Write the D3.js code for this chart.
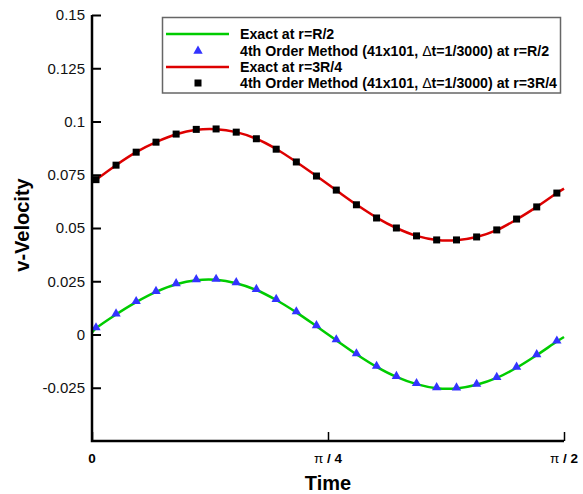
<!DOCTYPE html>
<html>
<head>
<meta charset="utf-8">
<script src="https://cdn.jsdelivr.net/npm/d3@7"></script>
<style>
  body { margin: 0; background: #fff; }
  svg { display: block; font-family: "Liberation Sans", Arial, Helvetica, sans-serif; }
</style>
</head>
<body>
<div id="chart"></div>
<script>
// time samples for the exact solution (line) and the 4th order method (symbols)
const exactTime = [0, 0.0133, 0.080, 0.147, 0.213, 0.280, 0.347, 0.413, 0.480, 0.547, 0.613, 0.680,
  0.747, 0.813, 0.880, 0.947, 1.013, 1.080, 1.147, 1.213, 1.280, 1.347, 1.413, 1.480, 1.547, 1.5708];
const exactHalf = [0.0010, 0.0029, 0.0094, 0.0152, 0.0200, 0.0236, 0.0255, 0.0257, 0.0241, 0.0209, 0.0162, 0.0104,
  0.0039, -0.0027, -0.0093, -0.0152, -0.0199, -0.0233, -0.0252, -0.0253, -0.0236, -0.0204, -0.0156, -0.0097, -0.0033, -0.0012];
const exactThreeQuarter = [0.0714, 0.0727, 0.0795, 0.0856, 0.0903, 0.0940, 0.0961, 0.0964, 0.0950, 0.0919, 0.0871, 0.0810,
  0.0744, 0.0677, 0.0610, 0.0549, 0.0500, 0.0463, 0.0444, 0.0443, 0.0458, 0.0490, 0.0540, 0.0599, 0.0664, 0.0685];

const methodTime = [0.0133, 0.080, 0.147, 0.213, 0.280, 0.347, 0.413, 0.480, 0.547, 0.613, 0.680, 0.747,
  0.813, 0.880, 0.947, 1.013, 1.080, 1.147, 1.213, 1.280, 1.347, 1.413, 1.480, 1.547];
const methodHalf = [0.0030, 0.0095, 0.0153, 0.0201, 0.0237, 0.0256, 0.0258, 0.0242, 0.0210, 0.0163, 0.0105, 0.0040,
  -0.0026, -0.0092, -0.0151, -0.0198, -0.0232, -0.0251, -0.0252, -0.0235, -0.0203, -0.0155, -0.0096, -0.0032];
const methodThreeQuarter = [0.0727, 0.0795, 0.0856, 0.0903, 0.0941, 0.0963, 0.0965, 0.0950, 0.0919, 0.0870, 0.0810, 0.0744,
  0.0678, 0.0609, 0.0547, 0.0500, 0.0463, 0.0444, 0.0444, 0.0458, 0.0491, 0.0542, 0.0599, 0.0664];

const yTicks = [-0.025, 0, 0.025, 0.05, 0.075, 0.1, 0.125, 0.15];
const yTickLabels = ["-0.025", "0", "0.025", "0.05", "0.075", "0.1", "0.125", "0.15"];
const xTicks = [0, Math.PI / 4, Math.PI / 2];
const xTickLabels = [["", "0"], ["\u03c0", " / 4"], ["\u03c0", " / 2"]];

const legendItems = [
  { label: "Exact at r=R/2", type: "line", color: "#00cc00" },
  { label: "at r=R/2", type: "tri", color: "#3333ff" },
  { label: "Exact at r=3R/4", type: "line", color: "#dd0000" },
  { label: "at r=3R/4", type: "sq", color: "#000000" }
];

const W = 583, H = 494;
const margin = { top: 15, right: 19, bottom: 53, left: 92 };

const svg = d3.select("#chart").append("svg")
  .attr("width", W)
  .attr("height", H);

const x = d3.scaleLinear().domain([0, Math.PI / 2]).range([margin.left, W - margin.right]);
const y = d3.scaleLinear().domain([-0.05, 0.15]).range([H - margin.bottom, margin.top]);

// curves
const line = d3.line()
  .x(d => x(d[0]))
  .y(d => y(d[1]))
  .curve(d3.curveCatmullRom.alpha(0.5));

svg.append("path")
  .datum(exactTime.map((t, i) => [t, exactHalf[i]]))
  .attr("fill", "none")
  .attr("stroke", "#00cc00")
  .attr("stroke-width", 2.5)
  .attr("d", line);

svg.append("path")
  .datum(exactTime.map((t, i) => [t, exactThreeQuarter[i]]))
  .attr("fill", "none")
  .attr("stroke", "#dd0000")
  .attr("stroke-width", 2.5)
  .attr("d", line);

const tri = d3.symbol().type(d3.symbolTriangle).size(38);

svg.selectAll(".tri")
  .data(methodTime.map((t, i) => [t, methodHalf[i]]))
  .enter().append("path")
  .attr("class", "tri")
  .attr("transform", d => `translate(${x(d[0])},${y(d[1]) - 0.5})`)
  .attr("d", tri)
  .attr("fill", "#3333ff");

svg.selectAll(".sq")
  .data(methodTime.map((t, i) => [t, methodThreeQuarter[i]]))
  .enter().append("rect")
  .attr("class", "sq")
  .attr("x", d => x(d[0]) - 3.5)
  .attr("y", d => y(d[1]) - 3.5)
  .attr("width", 7)
  .attr("height", 7)
  .attr("fill", "#000");

// axes
const gy = svg.append("g")
  .attr("transform", `translate(${margin.left},0)`)
  .call(d3.axisLeft(y).tickValues(yTicks).tickSize(-9).tickPadding(7)
    .tickFormat((d, i) => yTickLabels[i]));
gy.select(".domain").remove();
gy.selectAll("line").attr("stroke", "#000").attr("stroke-width", 2);
gy.selectAll("text").attr("font-size", 15).attr("fill", "#111")
  .attr("font-family", "Liberation Sans, Arial, sans-serif");

const gx = svg.append("g")
  .attr("transform", `translate(0,${H - margin.bottom})`)
  .call(d3.axisBottom(x).tickValues(xTicks).tickSize(-9).tickFormat(""));
gx.select(".domain").remove();
gx.selectAll("line").attr("stroke", "#000").attr("stroke-width", 1.5);

const xl = svg.append("g");
xTicks.forEach((t, i) => {
  const txt = xl.append("text")
    .attr("x", x(t))
    .attr("y", 463)
    .attr("text-anchor", "middle")
    .attr("font-size", 13.5)
    .attr("font-weight", "bold");
  if (xTickLabels[i][0]) txt.append("tspan").attr("font-weight", "normal").text(xTickLabels[i][0]);
  txt.append("tspan").text(xTickLabels[i][1]);
});

// axis lines
svg.append("path")
  .attr("d", `M${margin.left},${margin.top}V${H - margin.bottom}H${W - margin.right}`)
  .attr("fill", "none")
  .attr("stroke", "#000")
  .attr("stroke-width", 2.5);

// axis titles
svg.append("text")
  .attr("x", x(Math.PI / 4))
  .attr("y", 490)
  .attr("text-anchor", "middle")
  .attr("font-size", 20)
  .attr("font-weight", "bold")
  .text("Time");

svg.append("text")
  .attr("transform", "translate(29,225) rotate(-90)")
  .attr("text-anchor", "middle")
  .attr("font-size", 20)
  .attr("font-weight", "bold")
  .text("v-Velocity");

// legend
const legend = svg.append("g");
legend.append("rect")
  .attr("x", 162.5)
  .attr("y", 17.5)
  .attr("width", 398)
  .attr("height", 75.5)
  .attr("fill", "#fff")
  .attr("stroke", "#666")
  .attr("stroke-width", 1.5);

const rowY = [34, 51, 67, 83];
legendItems.forEach((d, i) => {
  const cy = rowY[i];
  if (d.type === "line") {
    legend.append("line")
      .attr("x1", 166).attr("x2", 229)
      .attr("y1", cy).attr("y2", cy)
      .attr("stroke", d.color)
      .attr("stroke-width", 2.5);
  } else if (d.type === "tri") {
    legend.append("path")
      .attr("transform", `translate(198,${cy})`)
      .attr("d", tri)
      .attr("fill", d.color);
  } else {
    legend.append("rect")
      .attr("x", 194.5).attr("y", cy - 3.5)
      .attr("width", 7).attr("height", 7)
      .attr("fill", d.color);
  }
  const txt = legend.append("text")
    .attr("x", 240)
    .attr("y", cy + 5)
    .attr("font-size", 14.2)
    .attr("font-weight", "bold");
  if (d.type === "line") {
    txt.text(d.label);
  } else {
    txt.append("tspan").text("4th Order Method (41x101, ");
    txt.append("tspan").attr("font-weight", "normal").text("\u0394");
    txt.append("tspan").text("t=1/3000) " + d.label);
  }
});
</script>
</body>
</html>
